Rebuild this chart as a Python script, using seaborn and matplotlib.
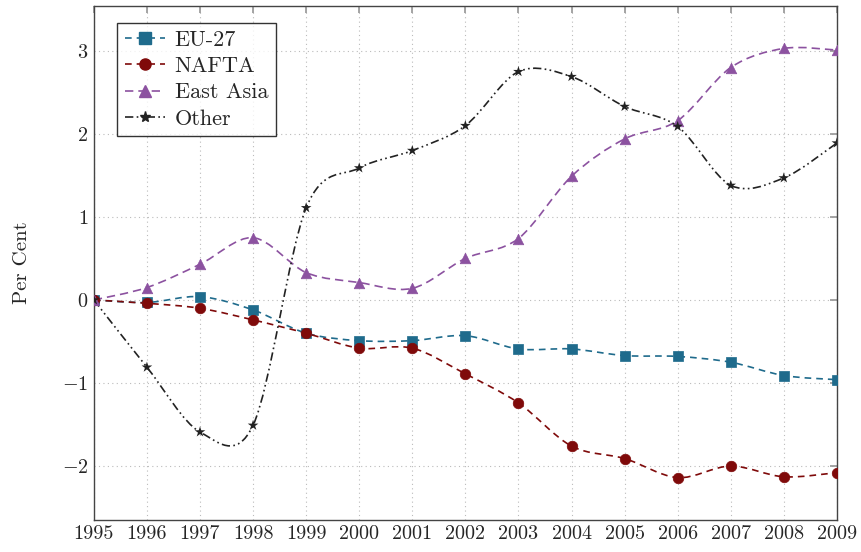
import numpy as np
import pandas as pd
import matplotlib
matplotlib.use("Agg")
import matplotlib.pyplot as plt
import seaborn as sns
from matplotlib.path import Path
from matplotlib.patches import PathPatch

years = list(range(1995, 2010))
eu27 = [0.0, -0.03, 0.04, -0.12, -0.40, -0.49, -0.49, -0.43, -0.59, -0.59, -0.67, -0.68, -0.75, -0.91, -0.96]
nafta = [0.0, -0.04, -0.10, -0.24, -0.40, -0.58, -0.58, -0.89, -1.24, -1.76, -1.91, -2.14, -2.00, -2.13, -2.08]
east_asia = [0.0, 0.15, 0.43, 0.75, 0.33, 0.21, 0.14, 0.50, 0.74, 1.49, 1.94, 2.16, 2.80, 3.03, 3.01]
other = [0.0, -0.81, -1.59, -1.51, 1.11, 1.59, 1.80, 2.10, 2.75, 2.69, 2.33, 2.09, 1.38, 1.47, 1.89]

series = ["EU-27", "NAFTA", "East Asia", "Other"]
values = [eu27, nafta, east_asia, other]
colors = ["#1f6b8c", "#7f0a0a", "#8c52a0", "#222222"]
markers = ["s", "o", "^", "*"]
dashes = [(4, 3), (4, 3), (5, 3), (5, 2, 1, 2, 1, 2)]
msizes = [8, 8, 8, 8]

df = pd.DataFrame({"year": years})
for name, v in zip(series, values):
    df[name] = v
long = df.melt(id_vars="year", var_name="region", value_name="pct")

sns.set_theme(style="white")
plt.rcParams["font.family"] = ["cmr10"]
plt.rcParams["mathtext.fontset"] = "cm"
plt.rcParams["axes.formatter.use_mathtext"] = True

fig = plt.figure(figsize=(8.61, 5.52), dpi=100)
ax = fig.add_axes([0.109, 0.058, 0.863, 0.931])


def smooth_path(x, y, t=0.16):
    # cubic bezier through the points, like a tikz "smooth" plot
    x = np.asarray(x, float)
    y = np.asarray(y, float)
    n = len(x)
    verts = [(x[0], y[0])]
    codes = [Path.MOVETO]
    for i in range(n - 1):
        p0 = np.array([x[max(i - 1, 0)], y[max(i - 1, 0)]])
        p1 = np.array([x[i], y[i]])
        p2 = np.array([x[i + 1], y[i + 1]])
        p3 = np.array([x[min(i + 2, n - 1)], y[min(i + 2, n - 1)]])
        c1 = p1 + t * (p2 - p0)
        c2 = p2 - t * (p3 - p1)
        verts += [tuple(c1), tuple(c2), tuple(p2)]
        codes += [Path.CURVE4] * 3
    return Path(verts, codes)


for name, c, m, d, ms in zip(series, colors, markers, dashes, msizes):
    sub = long[long.region == name]
    patch = PathPatch(smooth_path(sub.year, sub.pct), facecolor="none",
                      edgecolor=c, lw=1.2, linestyle=(0, d), zorder=2)
    ax.add_patch(patch)
    star = m == "*"
    sns.scatterplot(data=sub, x="year", y="pct", ax=ax, color=c, marker=m,
                    s=(9 if star else ms) ** 2 * (0.8 if star else 0.9),
                    edgecolor="none" if star else c, linewidth=0 if star else 0.5,
                    zorder=3, legend=False)

handles = [plt.Line2D([], [], color=c, marker=m, markersize=8,
                      linestyle=(0, d), lw=1.2, markeredgecolor=c)
           for c, m, d in zip(colors, markers, dashes)]
leg = ax.legend(handles, series, loc="upper left", bbox_to_anchor=(0.031, 0.968),
                fontsize=16, frameon=True, fancybox=False, edgecolor="black",
                handlelength=1.8, handletextpad=0.45, borderpad=0.35, labelspacing=0.3,
                borderaxespad=0)
leg.get_frame().set_linewidth(1.0)

ax.set_xlim(1995, 2009)
ax.set_ylim(-2.65, 3.54)
ax.set_xticks(years)
ax.set_xticklabels([str(y) for y in years])
ax.set_yticks([-2, -1, 0, 1, 2, 3])
ax.grid(True, linestyle=(0, (1, 3)), color="#bbbbbb", lw=0.8)
ax.tick_params(axis="both", direction="in", length=5, color="#999999",
               labelsize=14.5, top=True, right=True, pad=4)
for s in ax.spines.values():
    s.set_color("#444444")
    s.set_linewidth(1.0)
ax.set_xlabel("")
ax.set_ylabel("Per Cent", fontsize=15, labelpad=22)

fig.savefig("out.png", dpi=100)
